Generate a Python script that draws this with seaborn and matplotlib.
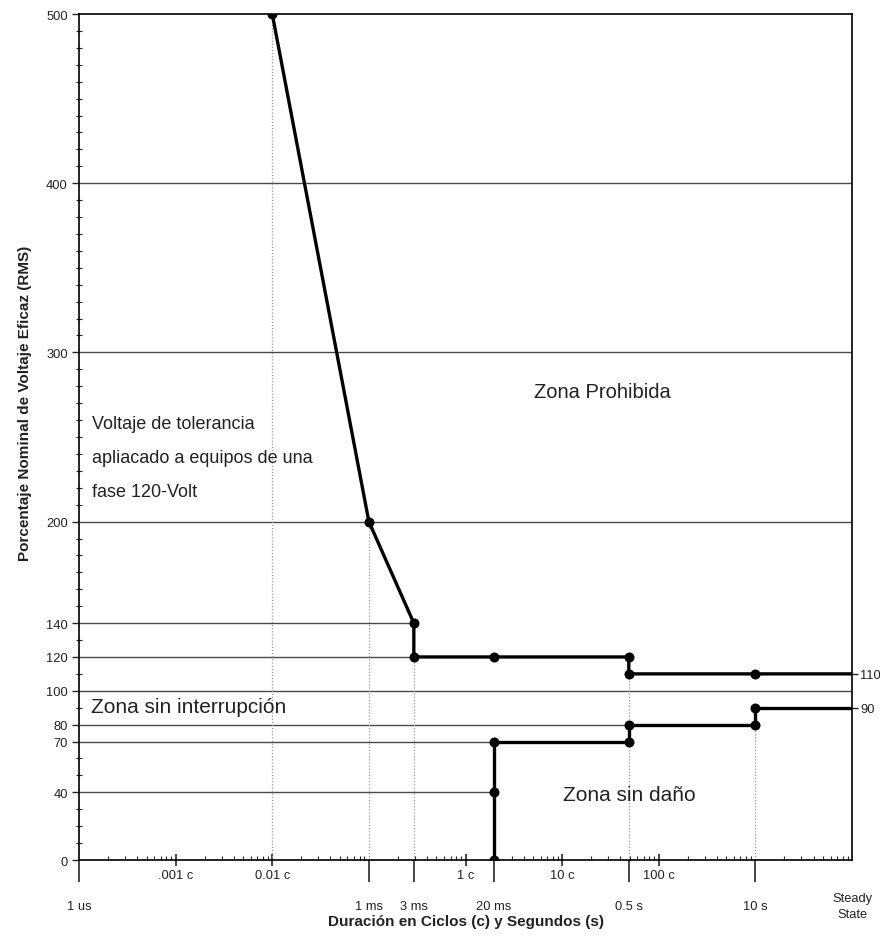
import numpy as np
import pandas as pd
import matplotlib
matplotlib.use("Agg")
import matplotlib.pyplot as plt
import seaborn as sns
from matplotlib.ticker import FixedLocator, NullFormatter

# ---------------- data ----------------
# x positions expressed in cycles (log axis), y in % nominal voltage
upper_x = [0.01, 0.1, 0.292, 0.292, 1.95, 49, 49, 1000, 10000]
upper_y = [500, 200, 140, 120, 120, 120, 110, 110, 110]
upper_marked = [True, True, True, True, True, True, True, True, False]

lower_x = [1.95, 1.95, 1.95, 49, 49, 1000, 1000, 10000]
lower_y = [0, 40, 70, 70, 80, 80, 90, 90]
lower_marked = [True, True, True, True, True, True, True, False]

cycle_ticks = [1e-3, 1e-2, 1, 10, 100]
cycle_labels = [".001 c", "0.01 c", "1 c", "10 c", "100 c"]
time_ticks = [1e-4, 0.1, 0.292, 1.95, 49, 1000]
time_labels = ["1 us", "1 ms", "3 ms", "20 ms", "0.5 s", "10 s"]
steady_x = 10000
steady_label = "Steady\nState"

y_ticks = [0, 40, 70, 80, 100, 120, 140, 200, 300, 400, 500]
right_ticks = [90, 110]

# horizontal reference lines: level, x-end
href_y = [400, 300, 200, 140, 120, 100, 80, 70, 40]
href_xend = [10000, 10000, 10000, 0.292, 0.292, 10000, 49, 1.95, 1.95]
# vertical dotted reference lines: x, y-top
vref_x = [0.01, 0.1, 0.292, 49, 1000]
vref_ytop = [500, 200, 120, 110, 80]

XMIN, XMAX = 1e-4, 1e4
TXT = "#222222"
TICKFS = 9.3

# ---------------- figure ----------------
sns.set_theme(style="white")
plt.rcParams["font.family"] = ["Liberation Sans", "DejaVu Sans"]

fig = plt.figure(figsize=(8.8, 9.37), dpi=100)
ax = fig.add_axes([79 / 880, 1 - 861 / 937, (852 - 79) / 880, (861 - 15) / 937])
ax.set_xscale("log")
ax.set_xlim(XMIN, XMAX)
ax.set_ylim(0, 500)

# reference lines
ax.hlines(href_y, XMIN, href_xend, colors="#4a4a4a", lw=1.0, zorder=1)
ax.vlines(vref_x, 0, vref_ytop, colors="#9a9a9a", lw=0.9, linestyles=(0, (1, 1.5)), zorder=1)

# curves
up = pd.DataFrame({"x": upper_x, "y": upper_y, "m": upper_marked})
lo = pd.DataFrame({"x": lower_x, "y": lower_y, "m": lower_marked})
for df in (up, lo):
    sns.lineplot(data=df, x="x", y="y", sort=False, estimator=None, color="black",
                 lw=2.4, ax=ax, zorder=3)
    sns.scatterplot(data=df[df["m"]], x="x", y="y", color="black", s=52,
                    edgecolor="black", linewidth=0, ax=ax, zorder=4)

# spines
for s in ax.spines.values():
    s.set_color("black")
    s.set_linewidth(1.2)

# y ticks
ax.set_yticks(y_ticks)
ax.set_yticklabels([str(v) for v in y_ticks], fontsize=TICKFS, color=TXT)
ax.yaxis.set_minor_locator(FixedLocator(np.arange(0, 501, 10)))
ax.tick_params(axis="y", which="major", direction="out", length=5, width=1, left=True, pad=3)
ax.tick_params(axis="y", which="minor", direction="inout", length=5, width=0.8, left=True)

# x ticks (cycles row)
ax.xaxis.set_major_locator(FixedLocator(cycle_ticks))
ax.set_xticklabels(cycle_labels, fontsize=TICKFS, color=TXT)
ax.tick_params(axis="x", which="major", direction="inout", length=9, width=1.2, bottom=True, pad=2)
minors = []
for d in range(-4, 4):
    for k in range(2, 10):
        minors.append(k * 10.0 ** d)
ax.xaxis.set_minor_locator(FixedLocator(minors))
ax.xaxis.set_minor_formatter(NullFormatter())
ax.tick_params(axis="x", which="minor", direction="in", length=3, width=0.8, bottom=True)

# x ticks (time row)
sec = ax.secondary_xaxis("bottom")
sec.set_xticks(time_ticks)
sec.set_xticklabels(time_labels, fontsize=TICKFS, color=TXT)
sec.tick_params(axis="x", which="major", direction="out", length=16, width=1.2, pad=13)
sec.xaxis.set_minor_locator(FixedLocator([]))
sec.spines["bottom"].set_visible(False)
ax.text(steady_x, -19, steady_label, ha="center", va="top", fontsize=TICKFS,
        color=TXT, linespacing=1.45)

# right labels
sec_r = ax.secondary_yaxis("right")
sec_r.set_yticks(right_ticks)
sec_r.set_yticklabels([str(v) for v in right_ticks], fontsize=TICKFS, color=TXT)
sec_r.tick_params(axis="y", direction="out", length=4, width=1, pad=2)
sec_r.spines["right"].set_visible(False)

# axis labels
ax.set_xlabel("Duración en Ciclos (c) y Segundos (s)", fontsize=11, fontweight="bold", color=TXT)
ax.xaxis.set_label_coords(0.5, -0.064)
ax.set_ylabel("Porcentaje Nominal de Voltaje Eficaz (RMS)", fontsize=11, fontweight="bold", color=TXT)
ax.yaxis.set_label_coords(-0.061, 0.541)
sec.set_xlabel("")

# annotations
ax.text(26, 277, "Zona Prohibida", ha="center", va="center", fontsize=14.5, color=TXT)
ax.text(1.36e-4, 258, "Voltaje de tolerancia", ha="left", va="center", fontsize=13, color=TXT)
ax.text(1.36e-4, 238, "apliacado a equipos de una", ha="left", va="center", fontsize=13, color=TXT)
ax.text(1.36e-4, 218, "fase 120-Volt", ha="left", va="center", fontsize=13, color=TXT)
ax.text(1.33e-4, 90.5, "Zona sin interrupción", ha="left", va="center", fontsize=15, color=TXT)
ax.text(50, 39, "Zona sin daño", ha="center", va="center", fontsize=15, color=TXT)

ax.grid(False)
fig.savefig("out.png", dpi=100)
